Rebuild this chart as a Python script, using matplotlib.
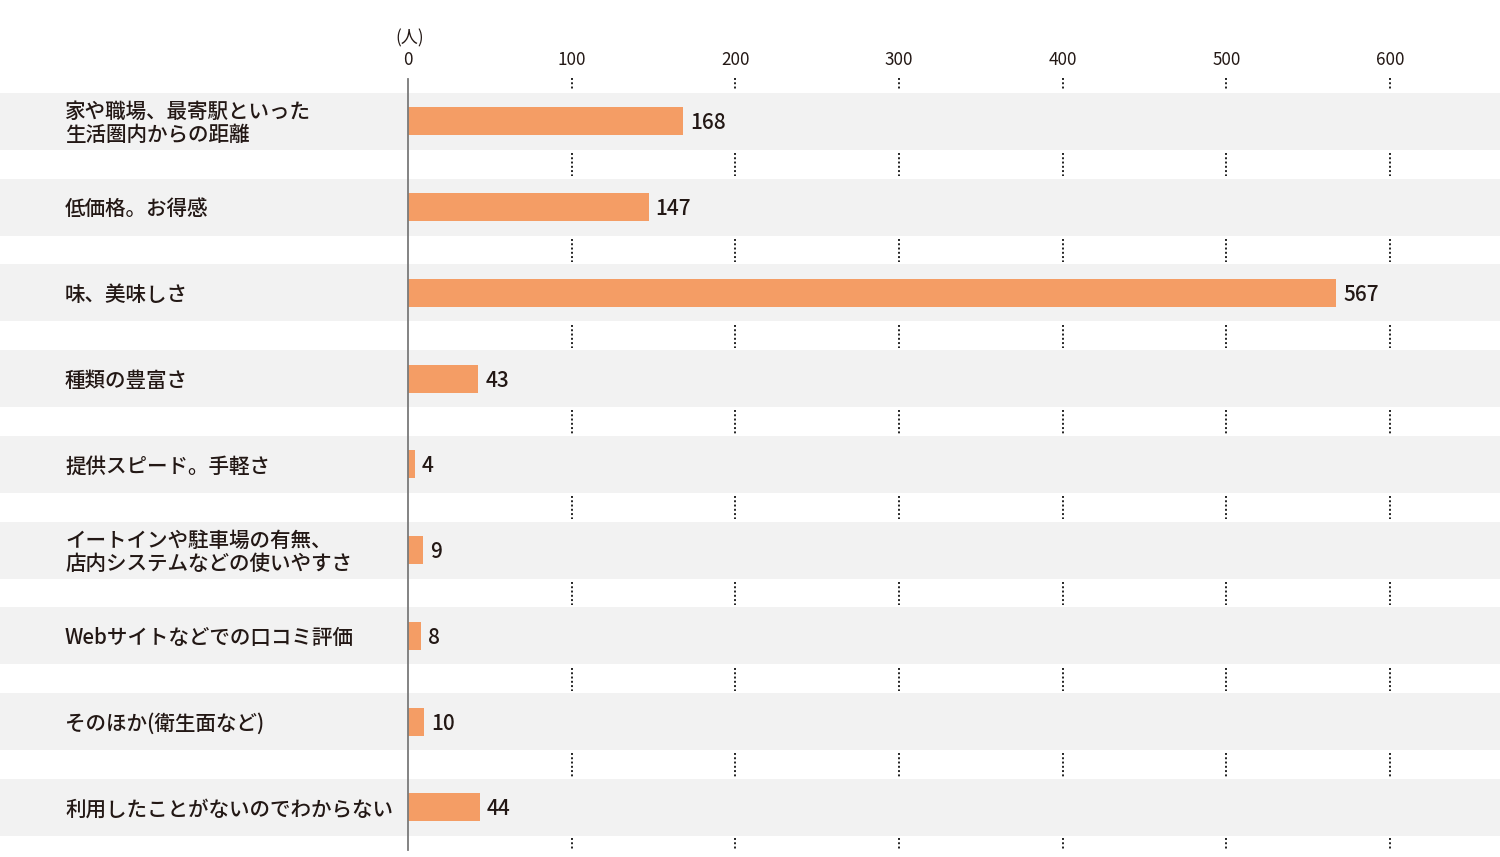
import matplotlib
matplotlib.use("Agg")
import matplotlib.pyplot as plt

plt.rcParams['font.family'] = ['Noto Sans CJK JP', 'DejaVu Sans']

categories = [
    "家や職場、最寄駅といった\n生活圏内からの距離",
    "低価格。お得感",
    "味、美味しさ",
    "種類の豊富さ",
    "提供スピード。手軽さ",
    "イートインや駐車場の有無、\n店内システムなどの使いやすさ",
    "Webサイトなどでの口コミ評価",
    "そのほか(衛生面など)",
    "利用したことがないのでわからない",
]
values = [168, 147, 567, 43, 4, 9, 8, 10, 44]
ticks = [0, 100, 200, 300, 400, 500, 600]
unit_label = "(人)"

W, H = 1500, 857
fig = plt.figure(figsize=(W / 100, H / 100), dpi=100)
ax = fig.add_axes([0, 0, 1, 1])

x0_px, x600_px = 408, 1390
ppu = (x600_px - x0_px) / 600.0
ax.set_xlim(-x0_px / ppu, (W - x0_px) / ppu)
row_px = 85.75
first_px = 121.5
ax.set_ylim((H - first_px) / row_px, -first_px / row_px)
ax.axis('off')

band_h = 57 / row_px
bar_h = 28 / row_px
text_color = '#231815'
n = len(categories)
ys = list(range(n))

axtrans = ax.get_yaxis_transform()
for y in ys:
    ax.fill_between([0, 1], y - band_h / 2, y + band_h / 2, color='#f2f2f2',
                    transform=axtrans, lw=0, zorder=0)

gap_segments = [(-0.51, -0.37)] + [(y + 0.37, y + 0.64) for y in ys[:-1]] + [(n - 1 + 0.36, n - 1 + 0.50)]
for t in ticks[1:]:
    for (a, b) in gap_segments:
        ax.plot([t, t], [a, b], color='#222222', lw=1.4, ls=(0, (1, 1.2)), zorder=1)

ax.barh(ys, values, height=bar_h, color='#f49d65', zorder=2)

ax.plot([0, 0], [-0.49, n - 1 + 0.50], color='#7a7a7a', lw=1.3, zorder=3)

for y, v in zip(ys, values):
    ax.annotate(str(v), (v, y), xytext=(7, -2), textcoords='offset pixels',
                ha='left', va='center', fontsize=15, color=text_color, fontweight='medium')

for y, c in zip(ys, categories):
    ax.annotate(c, (65 / W, y), xycoords=axtrans, xytext=(0, -2), textcoords='offset pixels',
                ha='left', va='center', fontsize=14.8, color=text_color,
                linespacing=1.1, fontweight='medium')

for t in ticks:
    ax.text(t, -0.72, str(t), ha='center', va='center', fontsize=12.3, color=text_color)
ax.text(0.8, -0.97, unit_label, ha='center', va='center', fontsize=12.3, color=text_color)

fig.savefig('out.png', dpi=100)
